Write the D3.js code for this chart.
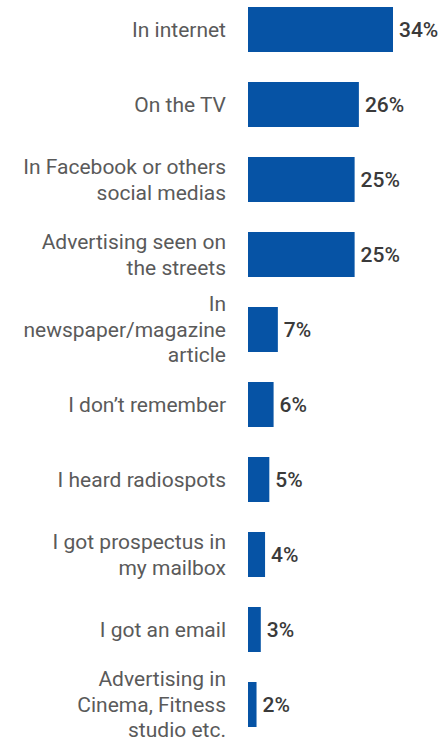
<!DOCTYPE html>
<html>
<head>
<meta charset="utf-8">
<script src="https://cdn.jsdelivr.net/npm/d3@7"></script>
<style>
  body { margin: 0; background: #fff; }
  .cat-label { font-family: Roboto, sans-serif; font-size: 21px; fill: #5a5a5a; }
  .val-label { font-family: Roboto, sans-serif; font-size: 21px; font-weight: 500; fill: #3a3a3a; }
</style>
</head>
<body>
<script>
const outerWidth = 444;
const outerHeight = 740;
const margin = { top: 7, right: 51, bottom: 13, left: 248 };
const innerWidth = outerWidth - margin.left - margin.right;
const innerHeight = outerHeight - margin.top - margin.bottom;

// categories (each entry = lines of the wrapped label)
const categories = [
  ['In internet'],
  ['On the TV'],
  ['In Facebook or others', 'social medias'],
  ['Advertising seen on', 'the streets'],
  ['In', 'newspaper/magazine', 'article'],
  ["I don\u2019t remember"],
  ['I heard radiospots'],
  ['I got prospectus in', 'my mailbox'],
  ['I got an email'],
  ['Advertising in', 'Cinema, Fitness', 'studio etc.']
];
const values = [34, 26, 25, 25, 7, 6, 5, 4, 3, 2];
const valueLabels = ['34%', '26%', '25%', '25%', '7%', '6%', '5%', '4%', '3%', '2%'];

const data = categories.map((c, i) => ({ id: i, lines: c, value: values[i], label: valueLabels[i] }));

const svg = d3.select('body').append('svg')
    .attr('width', outerWidth)
    .attr('height', outerHeight)
  .append('g')
    .attr('transform', `translate(${margin.left},${margin.top})`);

const xScale = d3.scaleLinear()
  .domain([0, 34])
  .range([0, 145]);

const yScale = d3.scaleBand()
  .domain(data.map(d => d.id))
  .range([0, innerHeight])
  .paddingInner(0.4)
  .paddingOuter(0);

// bars
svg.selectAll('.bar')
    .data(data)
    .enter()
  .append('rect')
    .attr('class', 'bar')
    .attr('x', 0)
    .attr('y', d => yScale(d.id))
    .attr('width', d => xScale(d.value))
    .attr('height', yScale.bandwidth())
    .attr('fill', '#0653a5');

// value labels
svg.selectAll('.val-label')
    .data(data)
    .enter()
  .append('text')
    .attr('class', 'val-label')
    .attr('x', d => xScale(d.value) + 6)
    .attr('y', d => yScale(d.id) + yScale.bandwidth() / 2)
    .attr('dy', '0.35em')
    .text(d => d.label);

// category labels, multi-line, centred on the bar
const fs = 21;
const lineH = 25.5;
const cat = svg.selectAll('.cat-label')
    .data(data)
    .enter()
  .append('text')
    .attr('class', 'cat-label')
    .attr('text-anchor', 'end')
    .attr('x', -22)
    .attr('y', d => yScale(d.id) + yScale.bandwidth() / 2);

cat.selectAll('tspan')
    .data(d => d.lines.map((l, i) => ({ l, i, n: d.lines.length })))
    .enter()
  .append('tspan')
    .attr('x', -22)
    .attr('dy', d => d.i === 0 ? ((-(d.n - 1) / 2) * lineH / fs + 0.35) + 'em' : (lineH / fs) + 'em')
    .text(d => d.l);
</script>
</body>
</html>
